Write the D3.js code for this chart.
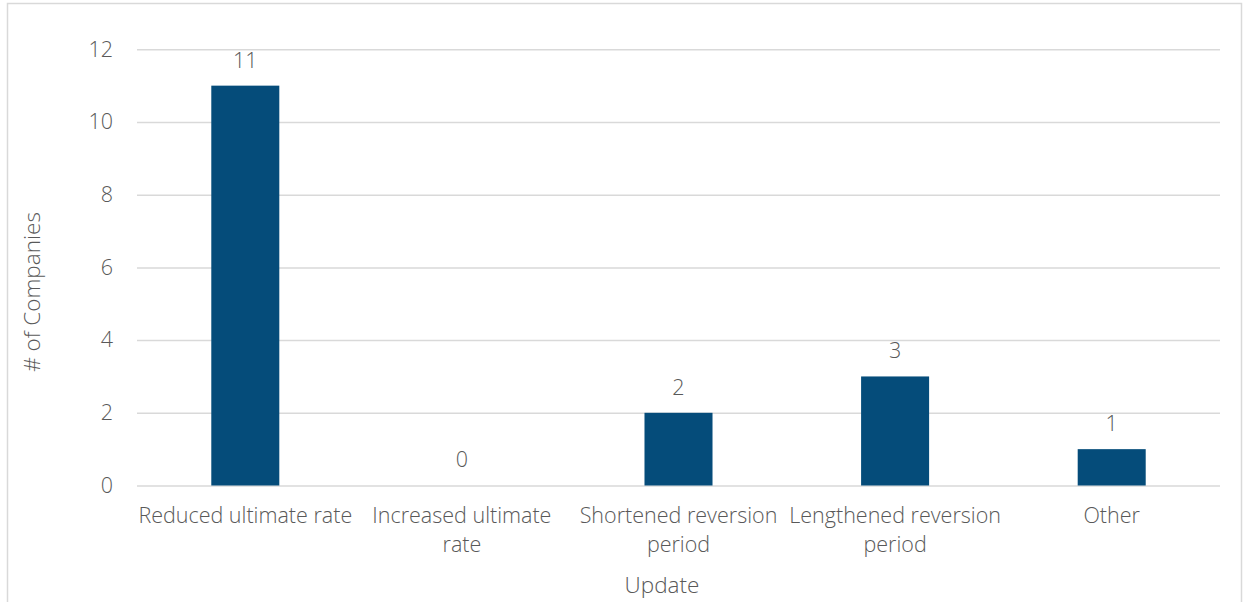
<!DOCTYPE html>
<html>
<head>
<meta charset="utf-8">
<script src="https://cdn.jsdelivr.net/npm/d3@7/dist/d3.min.js"></script>
<style>
  html, body { margin: 0; padding: 0; background: #fff; }
  svg { display: block; }
  text { font-family: "Open Sans", "Segoe UI", sans-serif; font-weight: 300; fill: #595959; }
</style>
</head>
<body>
<svg id="chart" width="1244" height="602"></svg>
<script>
// Number of companies by update type
const categories = [
  ["Reduced ultimate rate"],
  ["Increased ultimate", "rate"],
  ["Shortened reversion", "period"],
  ["Lengthened reversion", "period"],
  ["Other"]
];
const values = [11, 0, 2, 3, 1];
const yTicks = [0, 2, 4, 6, 8, 10, 12];
const yTitle = "# of Companies";
const xTitle = "Update";

const svg = d3.select("#chart");
const W = 1244, H = 602;
const margin = { left: 137, right: 24, top: 49.3, bottom: 116.5 };
const plotW = W - margin.left - margin.right;
const plotH = H - margin.top - margin.bottom;
const fs = 21.5;

// chart border
svg.append("rect")
  .attr("x", 7.5).attr("y", 3.5)
  .attr("width", 1234).attr("height", 610)
  .attr("fill", "none").attr("stroke", "#d9d9d9").attr("stroke-width", 1.5);

const g = svg.append("g").attr("transform", `translate(${margin.left},${margin.top})`);

const x = d3.scaleBand()
  .domain(d3.range(categories.length))
  .range([0, plotW])
  .paddingInner(0.686).paddingOuter(0.343);

const y = d3.scaleLinear().domain([0, 12]).range([plotH, 0]);

// gridlines
const yAxis = d3.axisLeft(y).tickValues(yTicks).tickSize(-plotW).tickPadding(24);
const ya = g.append("g").call(yAxis);
ya.select(".domain").remove();
ya.selectAll(".tick line").attr("stroke", "#d9d9d9").attr("stroke-width", 1.5);
ya.selectAll(".tick text")
  .attr("font-size", fs).attr("fill", "#595959")
  .style("font-family", '"Open Sans", sans-serif')
  .style("font-weight", 300);

// bars
g.selectAll("rect.bar").data(values).join("rect")
  .attr("class", "bar")
  .attr("x", (d, i) => x(i))
  .attr("width", x.bandwidth())
  .attr("y", d => y(d))
  .attr("height", d => plotH - y(d))
  .attr("fill", "#054c7a");

// value labels
g.selectAll("text.val").data(values).join("text")
  .attr("class", "val")
  .attr("x", (d, i) => x(i) + x.bandwidth() / 2)
  .attr("y", d => y(d) - 18)
  .attr("text-anchor", "middle")
  .attr("font-size", fs)
  .text(d => d);

// category labels
const cat = g.selectAll("text.cat").data(categories).join("text")
  .attr("class", "cat")
  .attr("x", (d, i) => x(i) + x.bandwidth() / 2)
  .attr("y", plotH + 38)
  .attr("text-anchor", "middle")
  .attr("font-size", fs);
cat.selectAll("tspan").data(d => d).join("tspan")
  .attr("x", function () { return d3.select(this.parentNode).attr("x"); })
  .attr("dy", (d, i) => i === 0 ? 0 : 29)
  .text(d => d);

// axis titles
svg.append("text")
  .attr("transform", "translate(40,292) rotate(-90)")
  .attr("text-anchor", "middle")
  .attr("font-size", 22.5)
  .text(yTitle);

svg.append("text")
  .attr("x", 662)
  .attr("y", 593)
  .attr("text-anchor", "middle")
  .attr("font-size", 22.5)
  .text(xTitle);
</script>
</body>
</html>
